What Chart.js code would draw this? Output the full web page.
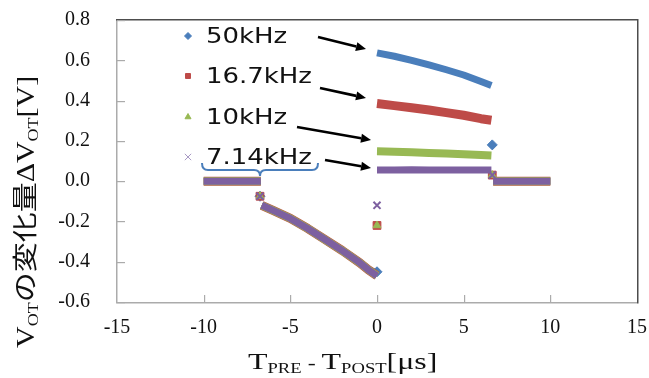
<!DOCTYPE html>
<html>
<head>
<meta charset="utf-8">
<script src="https://cdn.jsdelivr.net/npm/chart.js@4/dist/chart.umd.min.js"></script>
<style>
  html, body { margin: 0; padding: 0; background: #fff; }
  #wrap { width: 649px; height: 378px; }
</style>
</head>
<body>
<div id="wrap"><canvas id="chart"></canvas></div>
<script>
// ═══ DATA ═══
const X_TICKS = [-15, -10, -5, 0, 5, 10, 15];
const Y_TICKS = [-0.6, -0.4, -0.2, 0.0, 0.2, 0.4, 0.6, 0.8];

const SERIES = ['50kHz', '16.7kHz', '10kHz', '7.14kHz'];
const COLORS = ['#4A7EBB', '#BE4B48', '#98B954', '#7D60A0'];

// flat part before the pre pulse (same for all series)
const preFlatX = [-10, -9, -8, -7, -6.7];
const preFlatY = [0, 0, 0, 0, 0];
// single point at the step
const preStepX = -6.75;
const preStepY = -0.075;
// negative branch (all series overlap)
const preCurveX = [-6.65, -6, -5, -4, -3, -2, -1, -0.5, 0];
const preCurveY = [-0.12, -0.145, -0.185, -0.235, -0.29, -0.345, -0.405, -0.44, -0.47];

// isolated point at t = 0
const zeroJumpY = [-0.45, -0.22, -0.22, -0.12];

// positive branch
const postCurveX = [0, 1, 2, 3, 4, 5, 6, 6.6];
const postBlue   = [0.637, 0.62, 0.60, 0.577, 0.553, 0.527, 0.495, 0.475];
const postRed    = [0.385, 0.375, 0.364, 0.353, 0.34, 0.327, 0.31, 0.302];
const postGreen  = [0.148, 0.146, 0.143, 0.14, 0.137, 0.134, 0.13, 0.127];
const postPurple = [0.055, 0.055, 0.056, 0.055, 0.055, 0.055, 0.055, 0.055];

// point at the end of the post branch
const postStepX = 6.65;
const postStepY = [0.18, 0.03, 0.03, 0.03];

// flat part afterwards
const postFlatX = [6.7, 7, 8, 9, 10];
const postFlatY = [0, 0, 0, 0, 0];

// ═══ BUILD DATASETS ═══
const GAP = x => ({ x: x, y: null });
function buildSeries(i, post) {
  const pts = [];
  preFlatX.forEach((x, k) => pts.push({ x, y: preFlatY[k] }));
  pts.push(GAP(-6.72));
  pts.push({ x: preStepX, y: preStepY });
  pts.push(GAP(-6.7));
  preCurveX.forEach((x, k) => pts.push({ x, y: (i === 0 && k === preCurveX.length - 1) ? -0.455 : preCurveY[k] }));
  pts.push(GAP(0));
  pts.push({ x: 0, y: zeroJumpY[i] });
  pts.push(GAP(0));
  postCurveX.forEach((x, k) => pts.push({ x, y: post[k] }));
  pts.push(GAP(6.62));
  pts.push({ x: postStepX, y: postStepY[i] });
  pts.push(GAP(6.68));
  postFlatX.forEach((x, k) => pts.push({ x, y: postFlatY[k] }));
  return pts;
}

const POSTS = [postBlue, postRed, postGreen, postPurple];
const STYLES = ['rectRot', 'rect', 'triangle', 'crossRot'];
const RADII = [5, 5.5, 4.5, 5];
const WIDTHS = [7, 9, 8, 7];

// markers only where a point stands alone, the rest is a solid band
function isolated(ctx) {
  const d = ctx.dataset.data, k = ctx.dataIndex;
  const prev = d[k - 1], next = d[k + 1];
  return (!prev || prev.y === null) && (!next || next.y === null);
}

const datasets = SERIES.map((name, i) => ({
  label: name,
  data: buildSeries(i, POSTS[i]),
  showLine: true,
  spanGaps: false,
  borderColor: COLORS[i],
  backgroundColor: COLORS[i],
  borderWidth: WIDTHS[i],
  borderJoinStyle: 'round',
  pointStyle: STYLES[i],
  pointRadius: ctx => isolated(ctx) ? RADII[i] : 0,
  pointBorderWidth: i === 3 ? 2 : 1,
  pointBorderColor: COLORS[i],
  pointBackgroundColor: COLORS[i],
  order: 4 - i
}));

// ═══ ANNOTATIONS (legend text, arrows, brace, frame, titles) ═══
function arrow(ctx, x1, y1, x2, y2) {
  const a = Math.atan2(y2 - y1, x2 - x1);
  const hl = 10, hw = 4.5;
  const bx = x2 - hl * Math.cos(a), by = y2 - hl * Math.sin(a);
  ctx.beginPath();
  ctx.moveTo(x1, y1);
  ctx.lineTo(bx, by);
  ctx.lineWidth = 2.6;
  ctx.strokeStyle = '#000';
  ctx.stroke();
  ctx.beginPath();
  ctx.moveTo(x2, y2);
  ctx.lineTo(bx + hw * Math.sin(a), by - hw * Math.cos(a));
  ctx.lineTo(bx - hw * Math.sin(a), by + hw * Math.cos(a));
  ctx.closePath();
  ctx.fillStyle = '#000';
  ctx.fill();
}

function richText(ctx, parts, x, y, sx) {
  // parts: [text, size, dy]
  ctx.save();
  ctx.translate(x, y);
  ctx.scale(sx, 1);
  let cx = 0;
  parts.forEach(p => {
    ctx.font = p[1] + 'px "Liberation Serif", "Noto Sans CJK JP", serif';
    ctx.fillText(p[0], cx, p[2]);
    cx += ctx.measureText(p[0]).width;
  });
  ctx.restore();
}

const annotate = {
  id: 'annotate',
  afterDatasetsDraw(chart) {
    const ctx = chart.ctx;
    const xs = chart.scales.x, ys = chart.scales.y;
    const L = xs.left, R = xs.right, T = ys.top, B = ys.bottom;
    ctx.save();

    // frame: light left/bottom, dark top/right
    ctx.fillStyle = '#ABABAB';
    ctx.fillRect(L - 1, T, 1.5, B - T + 1);
    ctx.fillRect(L - 1, B, R - L + 1, 1.5);
    ctx.fillStyle = '#4D4D4D';
    ctx.fillRect(L - 1, T - 1, R - L + 2, 1.5);
    ctx.fillRect(R, T - 1, 1.5, B - T + 2.5);

    // inside tick marks
    ctx.fillStyle = '#ABABAB';
    Y_TICKS.forEach(v => {
      const py = Math.round(ys.getPixelForValue(v));
      ctx.fillRect(L, py, 8, 1.2);
    });
    X_TICKS.slice(1, -1).forEach(v => {
      const px = Math.round(xs.getPixelForValue(v));
      ctx.fillRect(px, B - 7, 1.2, 7);
    });

    // legend labels
    const labelY = [36, 76, 117, 157];
    ctx.textBaseline = 'middle';
    SERIES.forEach((name, i) => {
      ctx.save();
      ctx.fillStyle = COLORS[i];
      ctx.strokeStyle = i === 3 ? '#A899C4' : COLORS[i];
      ctx.lineWidth = 1;
      Chart.helpers.drawPoint(ctx, {
        pointStyle: STYLES[i], radius: i === 3 ? 4.5 : 3.5, rotation: 0, borderWidth: 1
      }, 188, labelY[i]);
      ctx.restore();
      ctx.save();
      ctx.translate(206, labelY[i] + 1);
      ctx.scale(1.18, 1);
      ctx.font = '22px "DejaVu Sans", sans-serif';
      ctx.fillStyle = '#111';
      ctx.fillText(name, 0, 0);
      ctx.restore();
    });

    // arrows
    arrow(ctx, 318, 37, 366, 49);
    arrow(ctx, 320, 88, 366, 98);
    arrow(ctx, 297, 127, 371, 140);
    arrow(ctx, 325, 160, 371, 168);

    // brace
    ctx.strokeStyle = '#4A7EBB';
    ctx.lineWidth = 2;
    ctx.beginPath();
    ctx.moveTo(202, 163);
    ctx.quadraticCurveTo(202, 170, 208, 170);
    ctx.lineTo(254, 170);
    ctx.quadraticCurveTo(260, 170, 260, 176);
    ctx.quadraticCurveTo(260, 170, 266, 170);
    ctx.lineTo(312, 170);
    ctx.quadraticCurveTo(318, 170, 318, 163);
    ctx.stroke();

    // axis titles
    ctx.fillStyle = '#111';
    ctx.textBaseline = 'alphabetic';
    richText(ctx, [['T', 24, 0], ['PRE', 14, 4], [' - ', 18, 0], ['T', 24, 0], ['POST', 14, 4], ['[μs]', 24, 0]], 248, 369, 1.33);

    ctx.save();
    ctx.translate(34, 348);
    ctx.rotate(-Math.PI / 2);
    richText(ctx, [['V', 25, 0], ['OT', 15, 4], ['の変化量', 25, 0], ['ΔV', 25, 0], ['OT', 15, 4], ['[V]', 25, 0]], 0, 0, 1.2);
    ctx.restore();

    ctx.restore();
  }
};

// ═══ CHART ═══
new Chart(document.getElementById('chart'), {
  type: 'scatter',
  data: { datasets },
  options: {
    responsive: true,
    maintainAspectRatio: false,
    animation: false,
    layout: { padding: { top: 20, right: 12, left: 0, bottom: 0 } },
    plugins: { legend: { display: false }, tooltip: { enabled: false } },
    scales: {
      x: {
        type: 'linear', min: -15, max: 15,
        afterBuildTicks: s => { s.ticks = X_TICKS.map(v => ({ value: v })); },
        afterFit: s => { s.height = 76; s.paddingLeft = 0; s.paddingRight = 0; },
        grid: { display: false, drawTicks: false },
        border: { display: false },
        ticks: { padding: 14, color: '#111', font: { family: '"Liberation Serif", serif', size: 20 }, maxRotation: 0 }
      },
      y: {
        type: 'linear', min: -0.6, max: 0.8,
        afterBuildTicks: s => { s.ticks = Y_TICKS.map(v => ({ value: v })); },
        afterFit: s => { s.width = 117; s.paddingTop = 0; s.paddingBottom = 0; },
        grid: { display: false, drawTicks: false },
        border: { display: false },
        ticks: { padding: 27, color: '#111', font: { family: '"Liberation Serif", serif', size: 20 }, callback: v => v.toFixed(1) }
      }
    }
  },
  plugins: [annotate]
});
</script>
</body>
</html>
